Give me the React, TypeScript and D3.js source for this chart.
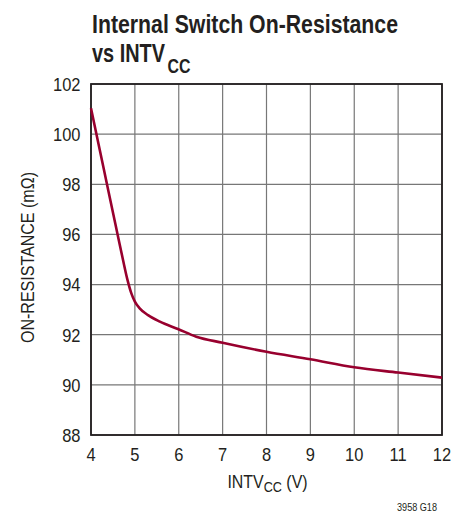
import React from "react";
import * as d3 from "d3";

const xValues = [4, 4.2, 4.4, 4.6, 4.73, 4.83, 4.92, 5.0, 5.11, 5.3, 5.57, 5.98, 6.4, 7, 8, 9, 10, 11, 12];
const yValues = [101.03, 99.37, 97.7, 96.05, 94.98, 94.2, 93.65, 93.32, 93.05, 92.78, 92.52, 92.23, 91.92, 91.68, 91.32, 91.02, 90.7, 90.49, 90.29];
const xTicks = [4, 5, 6, 7, 8, 9, 10, 11, 12];
const yTicks = [88, 90, 92, 94, 96, 98, 100, 102];

const W = 466, H = 514;
const left = 91, right = 442, top = 84, bottom = 435;
const font = "'Liberation Sans', Arial, Helvetica, sans-serif";
const ink = "#231f20";

export default function App() {
  const x = d3.scaleLinear().domain([4, 12]).range([left, right]);
  const y = d3.scaleLinear().domain([88, 102]).range([bottom, top]);
  const pts = xValues.map((v, i) => [v, yValues[i]] as [number, number]);
  const line = d3.line<[number, number]>().x(d => x(d[0])).y(d => y(d[1])).curve(d3.curveMonotoneX);
  return (
    <svg width={W} height={H} style={{ position: "absolute", left: 0, top: 0, background: "#fff" }}>
      <text x={92} y={33} fontFamily={font} fontWeight="bold" fontSize={25} fill={ink} textLength={306} lengthAdjust="spacingAndGlyphs">Internal Switch On-Resistance</text>
      <text x={92} y={61.5} fontFamily={font} fontWeight="bold" fontSize={25} fill={ink}>
        <tspan textLength={73} lengthAdjust="spacingAndGlyphs">vs INTV</tspan>
        <tspan x={167.5} y={73} fontSize={20} textLength={23} lengthAdjust="spacingAndGlyphs">CC</tspan>
      </text>
      {xTicks.map(t => (
        <line key={"gx" + t} x1={x(t)} x2={x(t)} y1={top} y2={bottom} stroke="#777" strokeWidth={1.2} />
      ))}
      {yTicks.map(t => (
        <line key={"gy" + t} x1={left} x2={right} y1={y(t)} y2={y(t)} stroke="#777" strokeWidth={1.2} />
      ))}
      <rect x={left} y={top} width={right - left} height={bottom - top} fill="none" stroke={ink} strokeWidth={1.8} />
      <path d={line(pts) || ""} fill="none" stroke="#98002e" strokeWidth={2.6} />
      {yTicks.map(t => (
        <text key={"ty" + t} transform={`translate(80.5,${y(t) + 6.8}) scale(0.89,1)`} textAnchor="end" fontFamily={font} fontSize={18.5} fill={ink}>{t}</text>
      ))}
      {xTicks.map(t => (
        <text key={"tx" + t} transform={`translate(${x(t)},460.5) scale(0.89,1)`} textAnchor="middle" fontFamily={font} fontSize={18.5} fill={ink}>{t}</text>
      ))}
      <text transform="translate(267.5,488) scale(0.84,1)" textAnchor="middle" fontFamily={font} fontSize={19} fill={ink}>
        INTV<tspan fontSize={15} dy={3.5}>CC</tspan><tspan dy={-3.5}> (V)</tspan>
      </text>
      <text transform="translate(33.5,257.5) rotate(-90)" textAnchor="middle" fontFamily={font} fontSize={18.5} fill={ink} textLength={171} lengthAdjust="spacingAndGlyphs">ON-RESISTANCE (mΩ)</text>
      <text x={437} y={510.5} textAnchor="end" fontFamily={font} fontSize={11} fill={ink} textLength={40} lengthAdjust="spacingAndGlyphs">3958 G18</text>
    </svg>
  );
}
